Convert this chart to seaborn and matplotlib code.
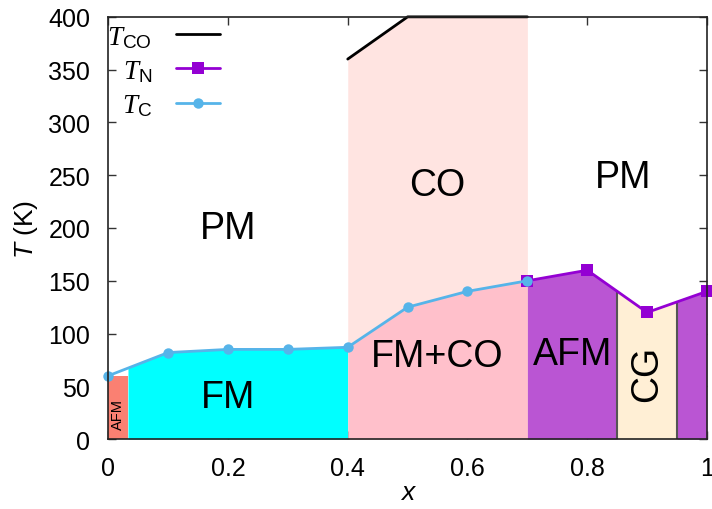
import numpy as np
import pandas as pd
import matplotlib
matplotlib.use("Agg")
import matplotlib.pyplot as plt
import seaborn as sns

# ---- data ----
tc_x = [0.0, 0.1, 0.2, 0.3, 0.4, 0.5, 0.6, 0.7]
tc_y = [60, 82, 85, 85, 87, 125, 140, 150]
tn_x = [0.7, 0.8, 0.9, 1.0]
tn_y = [150, 160, 120, 140]
tco_x = [0.4, 0.5, 0.7]
tco_y = [360, 400, 400]

# phase boundaries (x)
afm_low_end = 0.033
afm_low_top = 60
fm_end = 0.4
co_end = 0.7
cg_start = 0.85
cg_end = 0.95

sns.set_theme(style="ticks")
plt.rcParams["font.family"] = ["Liberation Sans", "DejaVu Sans"]
plt.rcParams["mathtext.fontset"] = "custom"
plt.rcParams["mathtext.rm"] = "Liberation Sans"
plt.rcParams["mathtext.it"] = "Liberation Serif:italic"
plt.rcParams["mathtext.bf"] = "Liberation Sans:italic"
plt.rcParams["text.color"] = "black"
plt.rcParams["axes.labelcolor"] = "black"
plt.rcParams["xtick.color"] = "black"
plt.rcParams["ytick.color"] = "black"

fig = plt.figure(figsize=(7.12, 5.10), dpi=100)
ax = fig.add_axes([0.152, 0.137, 0.841, 0.828])

def interp(xs, xp, fp):
    return np.interp(xs, xp, fp)

# AFM (low x)
ax.fill_between([0.0, afm_low_end], [afm_low_top, afm_low_top], 0, color="#fa8072", lw=0, zorder=1)
# FM
fm_xs = np.array([afm_low_end] + [v for v in tc_x if afm_low_end < v <= fm_end])
ax.fill_between(fm_xs, interp(fm_xs, tc_x, tc_y), 0, color="#00ffff", lw=0, zorder=1)
# FM+CO and CO
fc_xs = np.array([v for v in tc_x if fm_end <= v <= co_end])
fc_top = interp(fc_xs, tc_x, tc_y)
ax.fill_between(fc_xs, fc_top, 0, color="#ffc0cb", lw=0, zorder=1)
co_xs = np.array(sorted(set(list(fc_xs) + tco_x)))
ax.fill_between(co_xs, interp(co_xs, tc_x, tc_y), interp(co_xs, tco_x, tco_y),
                color="#ffe4e1", lw=0, zorder=1)
# AFM (high x) and CG
a1 = np.array([co_end, 0.8, cg_start])
ax.fill_between(a1, interp(a1, tn_x, tn_y), 0, color="#ba55d3", lw=0, zorder=1)
cg = np.array([cg_start, 0.9, cg_end])
ax.fill_between(cg, interp(cg, tn_x, tn_y), 0, color="#ffefd5", lw=0, zorder=1)
a2 = np.array([cg_end, 1.0])
ax.fill_between(a2, interp(a2, tn_x, tn_y), 0, color="#ba55d3", lw=0, zorder=1)
for xb in (cg_start, cg_end):
    ax.plot([xb, xb], [0, interp(xb, tn_x, tn_y)], color="#555555", lw=1.5, zorder=2)

# lines
sns.lineplot(x=tco_x, y=tco_y, ax=ax, color="black", lw=2, label=r"$T_{\rm CO}$", zorder=3, clip_on=False)
sns.lineplot(x=tn_x, y=tn_y, ax=ax, color="#9400d3", lw=2, marker="s", markersize=8.5,
             markeredgewidth=0, label=r"$T_{\rm N}$", zorder=4, clip_on=False)
sns.lineplot(x=tc_x, y=tc_y, ax=ax, color="#56b4e9", lw=2, marker="o", markersize=7.5,
             markeredgewidth=0, label=r"$T_{\rm C}$", zorder=5, clip_on=False)

# labels in regions
fs = 27
ax.text(0.2, 200, "PM", fontsize=fs, ha="center", va="center", zorder=6)
ax.text(0.55, 241, "CO", fontsize=fs, ha="center", va="center", zorder=6)
ax.text(0.86, 248, "PM", fontsize=fs, ha="center", va="center", zorder=6)
ax.text(0.2, 40, "FM", fontsize=fs, ha="center", va="center", zorder=6)
ax.text(0.55, 79, "FM+CO", fontsize=fs, ha="center", va="center", zorder=6)
ax.text(0.775, 81, "AFM", fontsize=fs, ha="center", va="center", zorder=6)
ax.text(0.9, 63, "CG", fontsize=fs, ha="center", va="center", rotation=90, zorder=6)
ax.text(0.0165, 24, "AFM", fontsize=10.5, ha="center", va="center", rotation=90, zorder=6)

ax.set_xlim(0, 1)
ax.set_ylim(0, 400)
ax.set_xticks([0, 0.2, 0.4, 0.6, 0.8, 1.0])
ax.set_xticklabels(["0", "0.2", "0.4", "0.6", "0.8", "1"])
ax.set_yticks(range(0, 401, 50))
ax.tick_params(direction="in", length=6, width=1, labelsize=18, top=True, right=True,
               color="#333333")
ax.tick_params(axis="y", pad=13)
ax.tick_params(axis="x", pad=12)
for s in ax.spines.values():
    s.set_linewidth(1.2)
    s.set_color("#222222")
    s.set_zorder(7)
ax.set_xlabel("x", fontsize=19, fontstyle="italic", labelpad=0)
ax.set_ylabel(r"$\mathbf{T}$ (K)", fontsize=19, labelpad=6)

leg = ax.legend(loc="upper left", bbox_to_anchor=(-0.006, 0.99), frameon=False,
                markerfirst=False, fontsize=19.5,
                handlelength=1.6, labelspacing=0.3, borderaxespad=0.0, borderpad=0.1,
                handletextpad=0.9)
leg.set_zorder(8)

fig.savefig("out.png", dpi=100)
